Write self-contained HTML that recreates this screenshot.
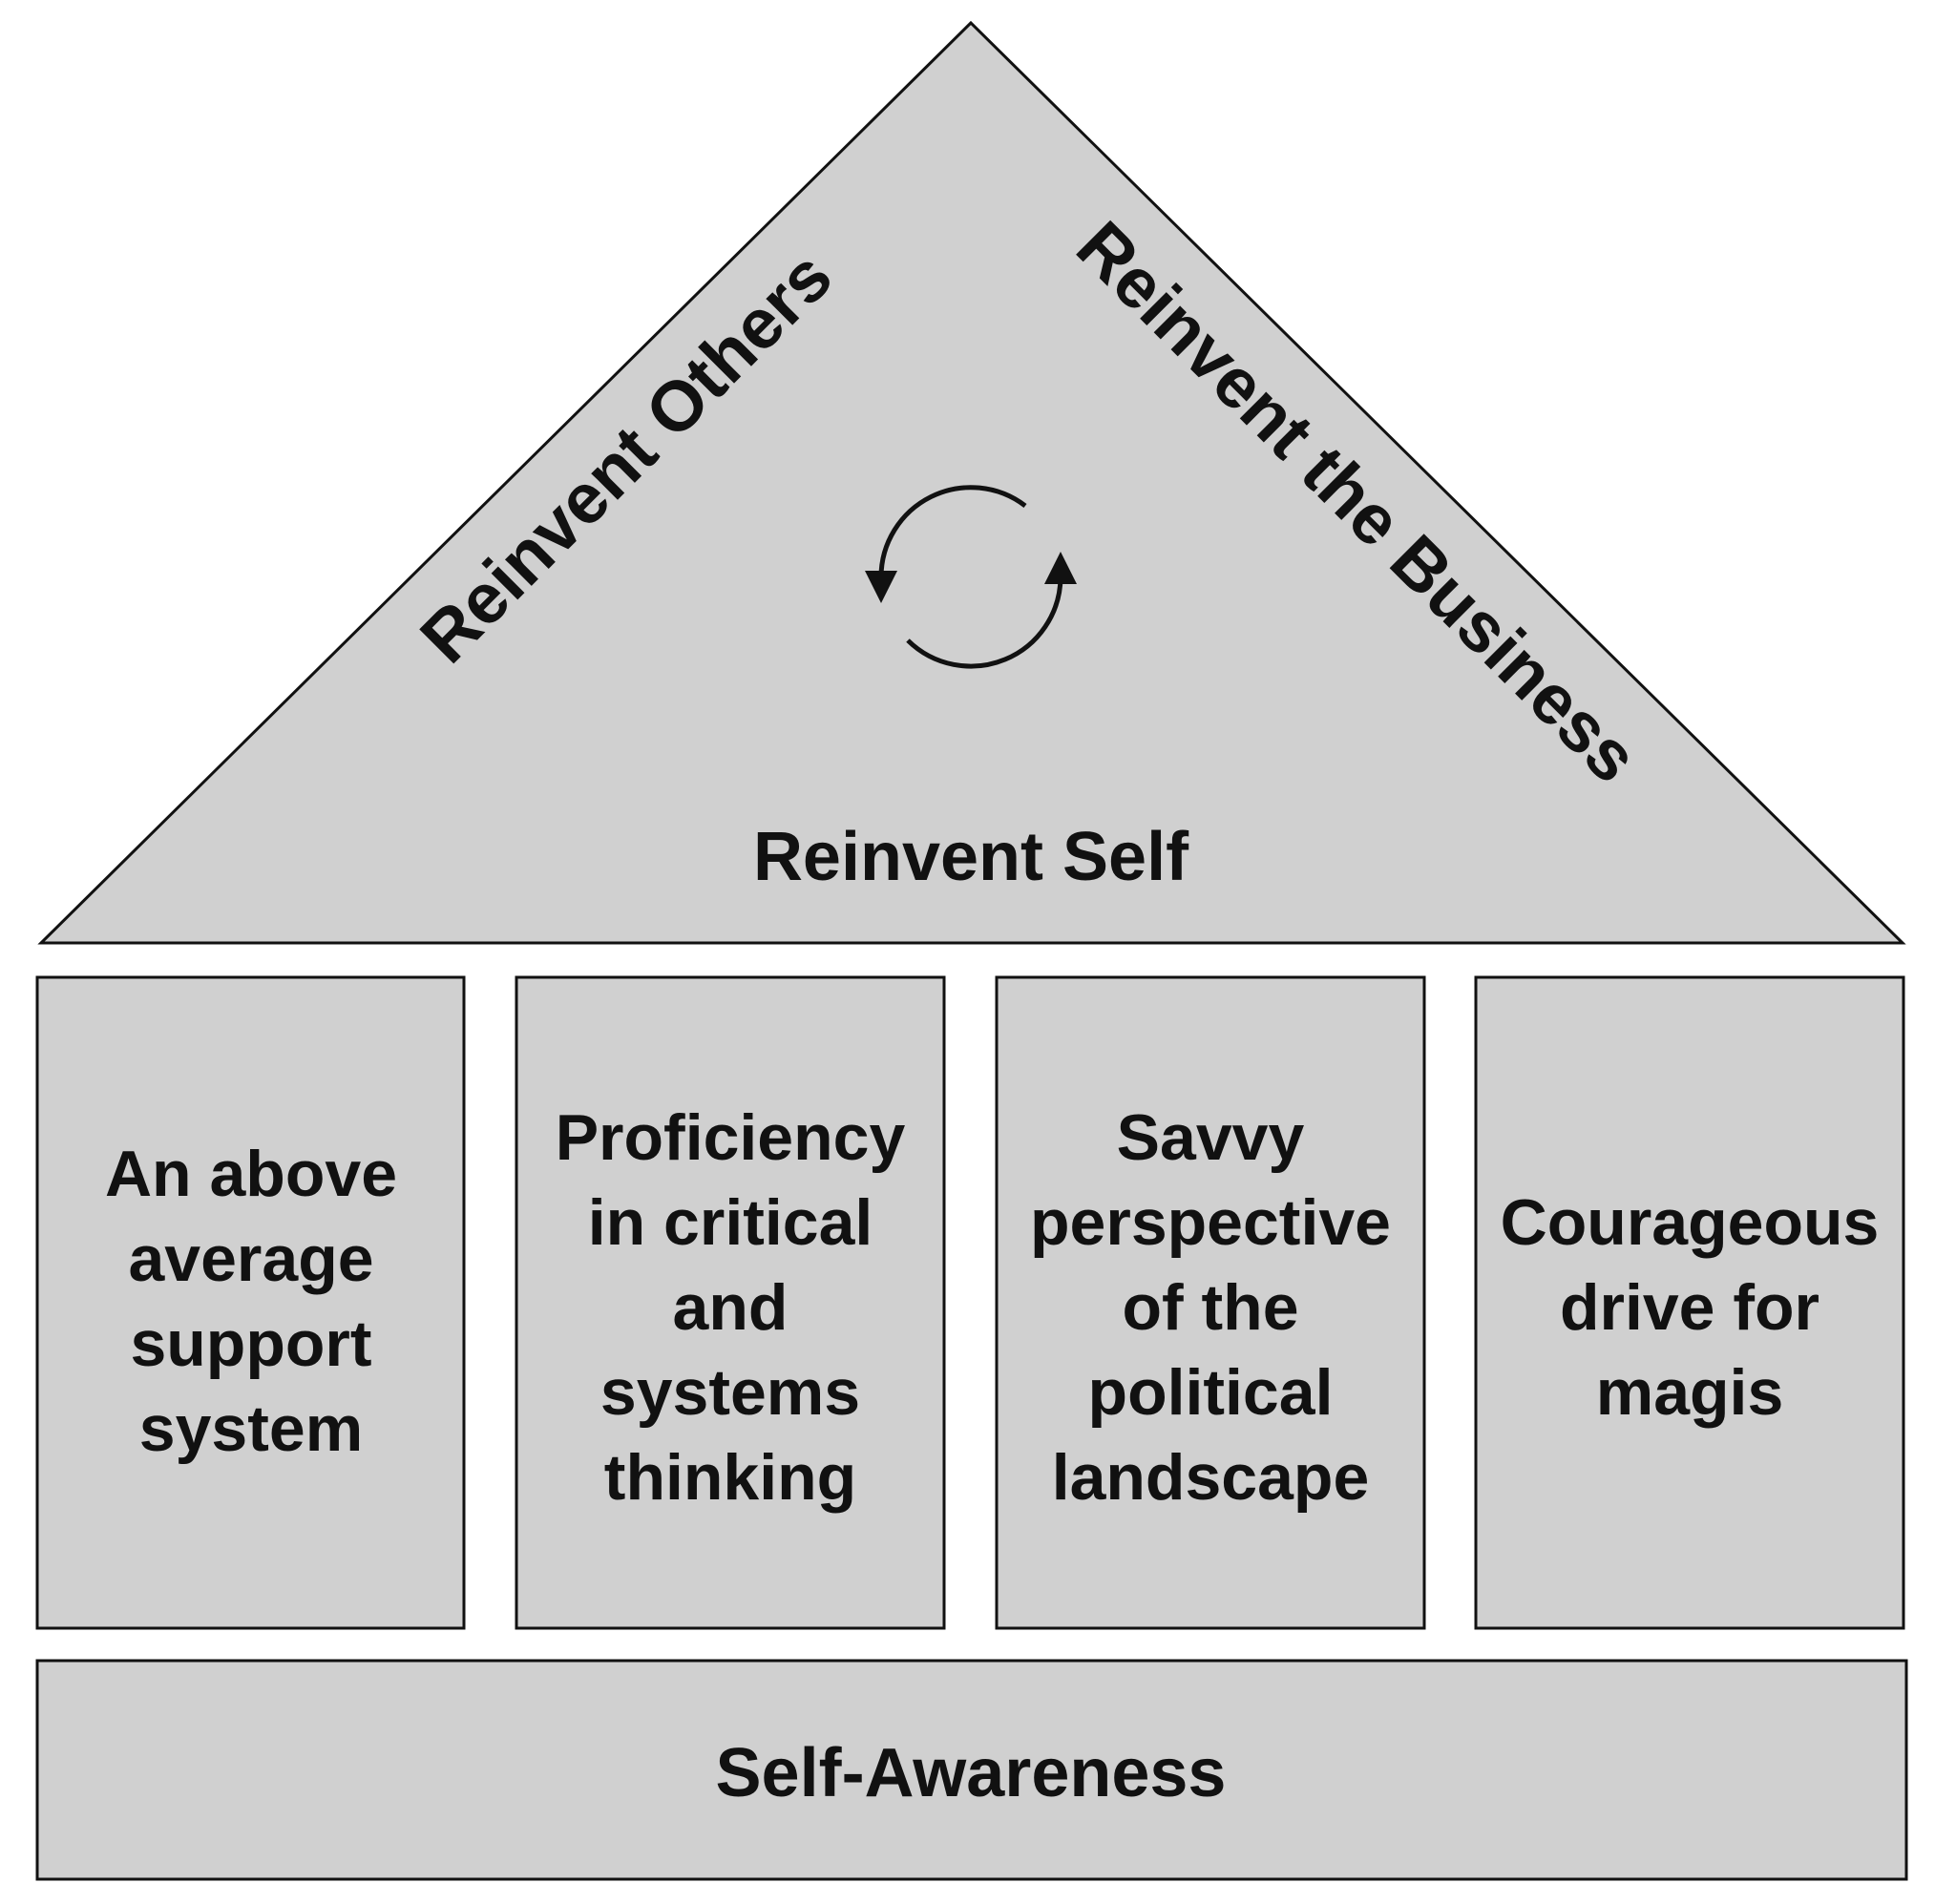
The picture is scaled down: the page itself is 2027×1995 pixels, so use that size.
<!DOCTYPE html>
<html><head><meta charset="utf-8"><style>
html,body{margin:0;padding:0;background:#fff;}
svg{display:block;}
text{font-family:"Liberation Sans",sans-serif;font-weight:bold;fill:#111;}
</style></head><body>
<svg width="2027" height="1995" viewBox="0 0 2027 1995" xmlns="http://www.w3.org/2000/svg">
<polygon points="1017,24 43,988 1993,988" fill="#d0d0d0" stroke="#111" stroke-width="3"/>
<text x="660" y="483" font-size="74" text-anchor="middle" dominant-baseline="middle" transform="rotate(-45 660 483)">Reinvent Others</text>
<text x="1418" y="530" font-size="74" text-anchor="middle" dominant-baseline="middle" transform="rotate(45 1418 530)">Reinvent the Business</text>
<text x="1017" y="922" font-size="72" text-anchor="middle">Reinvent Self</text>
<path d="M1074,530 A94,94 0 0 0 923,605" fill="none" stroke="#111" stroke-width="5"/>
<polygon points="906,598 940,598 923,632" fill="#111"/>
<path d="M951,671 A94,94 0 0 0 1111,605" fill="none" stroke="#111" stroke-width="5"/>
<polygon points="1094,612 1128,612 1111,578" fill="#111"/>
<g fill="#d0d0d0" stroke="#111" stroke-width="3">
<rect x="39" y="1024" width="447" height="682"/>
<rect x="541" y="1024" width="448" height="682"/>
<rect x="1044" y="1024" width="448" height="682"/>
<rect x="1546" y="1024" width="448" height="682"/>
<rect x="39" y="1740" width="1958" height="229"/>
</g>
<g font-size="68" text-anchor="middle">
<text x="263" y="1253">An above</text>
<text x="263" y="1342">average</text>
<text x="263" y="1431">support</text>
<text x="263" y="1520">system</text>
<text x="765" y="1215">Proficiency</text>
<text x="765" y="1304">in critical</text>
<text x="765" y="1393">and</text>
<text x="765" y="1482">systems</text>
<text x="765" y="1571">thinking</text>
<text x="1268" y="1215">Savvy</text>
<text x="1268" y="1304">perspective</text>
<text x="1268" y="1393">of the</text>
<text x="1268" y="1482">political</text>
<text x="1268" y="1571">landscape</text>
<text x="1770" y="1304">Courageous</text>
<text x="1770" y="1393">drive for</text>
<text x="1770" y="1482">magis</text>
<text x="1017" y="1882" font-size="72">Self-Awareness</text>
</g>
</svg>
</body></html>
